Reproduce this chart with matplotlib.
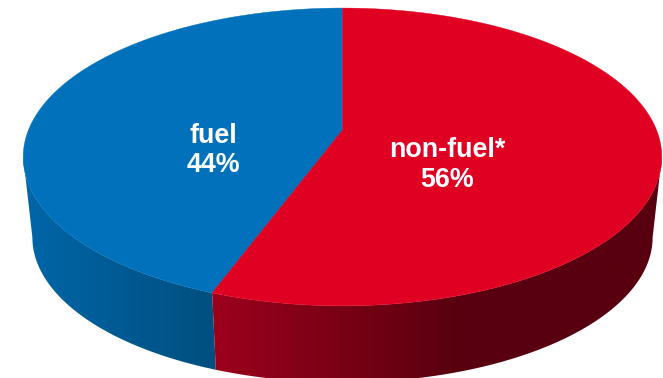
import numpy as np
import matplotlib

matplotlib.use("Agg")
from matplotlib.colors import LinearSegmentedColormap
from matplotlib.patches import Polygon
from matplotlib.pyplot import subplots

labels = ["fuel", "non-fuel*"]
values = [44.4, 55.6]
top_colors = ["#0071ba", "#e00022"]
side_colors = [["#0066a8", "#004f80"], ["#9c001c", "#58000f"]]
label_xy = [(213.5, 150.5), (447, 165)]

# picture geometry, pixels
cx = 342.5
k = 0.181  # perspective of the disc
a_top, b_top, y_top = 144.0, 314.0, 130.0
a_bot, b_bot, y_bot = 140.4, 305.0, 211.0
shade_end = [214, 460]  # red side is flat dark after this x


def ring(theta, a, b, y0):
    # theta clockwise from 12 o'clock, in degrees, on a perspective disc
    t = np.radians(theta)
    u, v = np.sin(t), np.cos(t)
    d = 1 + k * v
    return np.column_stack([cx + b * u / d, y0 - a * v / d])


fg, ax = subplots(figsize=(6.63, 3.78), dpi=100)
ax.set_position([0, 0, 1, 1])
ax.set_xlim(0, 663)
ax.set_ylim(378, 0)
ax.axis("off")

fractions = np.array(values) / sum(values)
split = 360 * (1 - fractions[0])  # fuel slice ends at 12 o'clock, going clockwise
edge = np.degrees(np.arccos(-k))  # silhouette of the disc

# sides: fuel is on the left, non-fuel on the right
side_ranges = [(split, 360 - edge), (edge, split)]
x_ranges = [(23, shade_end[0]), (shade_end[0], shade_end[1])]
for i, (th0, th1) in enumerate(side_ranges):
    th = np.linspace(th0, th1, 200)
    pts = np.vstack([ring(th, a_top, b_top, y_top), ring(th[::-1], a_bot, b_bot, y_bot)])
    poly = Polygon(pts, closed=True, fc="none", ec="none")
    ax.add_patch(poly)
    cmap = LinearSegmentedColormap.from_list("side", side_colors[i])
    x = np.arange(0, 664)
    grad = np.clip((x - x_ranges[i][0]) / (x_ranges[i][1] - x_ranges[i][0]), 0, 1)
    im = ax.imshow(grad[None, :], extent=(0, 663, 378, 0), cmap=cmap, vmin=0, vmax=1,
                   aspect="auto", zorder=1)
    im.set_clip_path(poly)

# top faces
start = [split, 0]
stop = [360, split]
for i in range(2):
    th = np.linspace(start[i], stop[i], 300)
    pts = np.vstack([[cx, y_top], ring(th, a_top, b_top, y_top)])
    ax.add_patch(Polygon(pts, closed=True, fc=top_colors[i], ec=top_colors[i], lw=0.3, zorder=2))

for name, val, (x, y) in zip(labels, values, label_xy):
    ax.text(x, y, f"{name}\n{val:.0f}%", color="white", ha="center", va="center",
            fontsize=19.4, fontweight="bold", family="Liberation Sans", linespacing=1.16, zorder=3)

fg.savefig("out.png", dpi=100)
